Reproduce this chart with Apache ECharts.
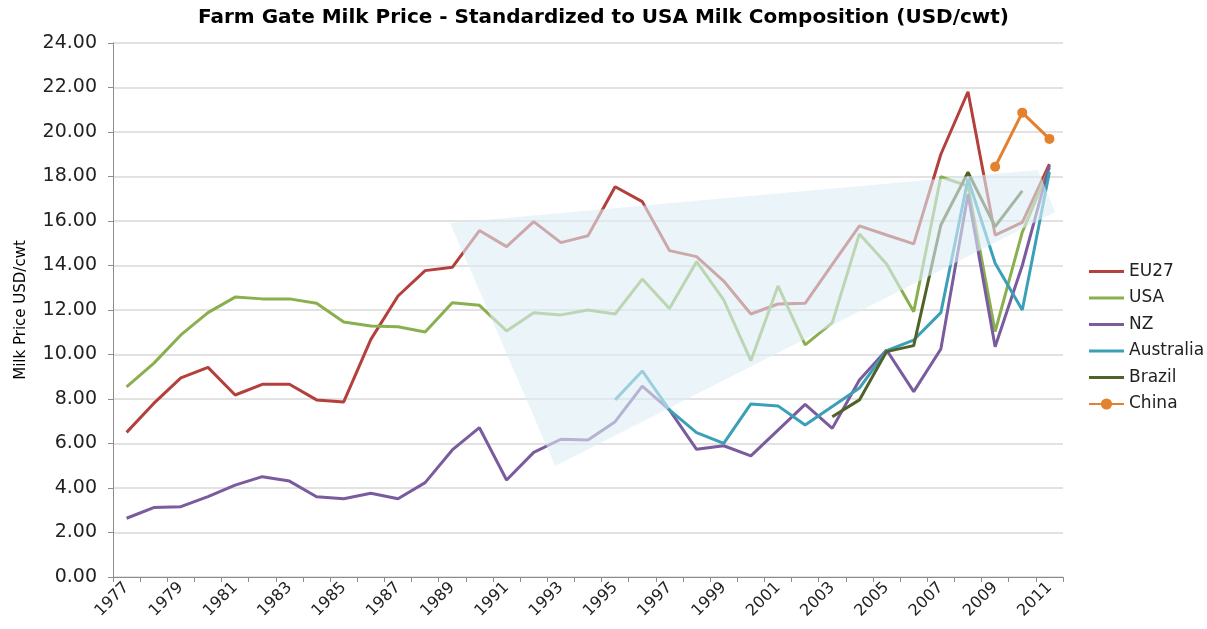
<!DOCTYPE html>
<html>
<head>
<meta charset="utf-8">
<title>Farm Gate Milk Price</title>
<script src="https://cdn.jsdelivr.net/npm/echarts@6/dist/echarts.min.js"></script>
<style>
  html, body { margin: 0; padding: 0; background: #fff; }
  #chart-container { width: 1207px; height: 629px; }
</style>
</head>
<body>
<div id="chart-container"></div>
<script>
// 数据
const years = ['1977', '1978', '1979', '1980', '1981', '1982', '1983', '1984', '1985', '1986',
  '1987', '1988', '1989', '1990', '1991', '1992', '1993', '1994', '1995', '1996',
  '1997', '1998', '1999', '2000', '2001', '2002', '2003', '2004', '2005', '2006',
  '2007', '2008', '2009', '2010', '2011'];

const eu27 = [6.50, 7.80, 8.95, 9.42, 8.18, 8.66, 8.66, 7.96, 7.87, 10.68,
  12.63, 13.77, 13.92, 15.57, 14.85, 15.97, 15.03, 15.34, 17.54, 16.87,
  14.67, 14.40, 13.30, 11.82, 12.27, 12.30, 14.05, 15.78, 15.37, 14.97,
  19.00, 21.81, 15.37, 15.94, 18.56];

const usa = [8.55, 9.60, 10.88, 11.88, 12.58, 12.50, 12.50, 12.30, 11.46, 11.28,
  11.25, 11.01, 12.33, 12.21, 11.06, 11.88, 11.78, 12.00, 11.82, 13.39,
  12.07, 14.17, 12.45, 9.72, 13.08, 10.43, 11.43, 15.42, 14.07, 11.92,
  17.99, 17.57, 11.03, 15.50, 18.40];

const nz = [2.64, 3.12, 3.16, 3.61, 4.13, 4.51, 4.31, 3.61, 3.52, 3.76,
  3.52, 4.24, 5.71, 6.71, 4.36, 5.60, 6.19, 6.16, 6.98, 8.58,
  7.51, 5.74, 5.90, 5.44, 6.60, 7.76, 6.68, 8.85, 10.20, 8.33,
  10.25, 17.20, 10.35, 14.00, 18.50];

const australia = [null, null, null, null, null, null, null, null, null, null,
  null, null, null, null, null, null, null, null, 7.96, 9.26,
  7.51, 6.49, 6.01, 7.78, 7.69, 6.83, 7.66, 8.49, 10.17, 10.65,
  11.88, 17.90, 14.10, 12.00, 18.20];

const brazil = [null, null, null, null, null, null, null, null, null, null,
  null, null, null, null, null, null, null, null, null, null,
  null, null, null, null, null, null, 7.20, 7.96, 10.13, 10.40,
  15.82, 18.19, 15.75, 17.35, null];

const china = [null, null, null, null, null, null, null, null, null, null,
  null, null, null, null, null, null, null, null, null, null,
  null, null, null, null, null, null, null, null, null, null,
  null, null, 18.44, 20.87, 19.69];

// 高亮区域 (x = 类目序号, y = 价格)
const highlightShape = [[11.92, 15.91], [15.79, 4.99], [34.21, 16.40], [33.58, 18.29]];

const FONT = 'DejaVu Sans';
const LINE_ICON = 'path://M0,0 L35,0 L35,3 L0,3 Z';

const seriesDefs = [
  { name: 'EU27', data: eu27, color: '#B3403C' },
  { name: 'USA', data: usa, color: '#8AAF4E' },
  { name: 'NZ', data: nz, color: '#7A5B9D' },
  { name: 'Australia', data: australia, color: '#3AA0B8' },
  { name: 'Brazil', data: brazil, color: '#4F6228' },
  { name: 'China', data: china, color: '#E4812F', marker: true }
];

function buildOption() {
  const lineSeries = seriesDefs.map(s => ({
    name: s.name,
    type: 'line',
    data: s.data,
    connectNulls: false,
    symbol: s.marker ? 'circle' : 'none',
    symbolSize: 10,
    showSymbol: !!s.marker,
    lineStyle: { width: 3, color: s.color },
    itemStyle: { color: s.color },
    z: 2
  }));

  // 半透明区域叠在折线上面
  const shapeSeries = {
    type: 'custom',
    xAxisIndex: 1,
    yAxisIndex: 0,
    silent: true,
    z: 5,
    data: [0],
    renderItem: (params, api) => ({
      type: 'polygon',
      shape: { points: highlightShape.map(p => api.coord(p)) },
      style: { fill: 'rgba(222,238,245,0.6)' }
    })
  };

  return {
    backgroundColor: '#ffffff',
    animation: false,
    title: {
      text: 'Farm Gate Milk Price - Standardized to USA Milk Composition (USD/cwt)',
      left: 'center',
      top: 3,
      textStyle: { fontFamily: FONT, fontSize: 20, fontWeight: 'bold', color: '#000' }
    },
    legend: {
      orient: 'vertical',
      left: 1083,
      top: 258,
      itemWidth: 35,
      itemHeight: 14,
      itemGap: 9.5,
      symbolKeepAspect: true,
      textStyle: { fontFamily: FONT, fontSize: 17, color: '#222' },
      data: seriesDefs.map(s => s.marker ? { name: s.name } : { name: s.name, icon: LINE_ICON })
    },
    grid: { left: 113, right: 144, top: 43, bottom: 52, containLabel: false, outerBoundsMode: 'none' },
    xAxis: [
      {
        type: 'category',
        data: years,
        boundaryGap: true,
        axisLine: { onZero: false, lineStyle: { color: '#8c8c8c', width: 1 } },
        axisTick: { show: true, interval: 0, length: 5, lineStyle: { color: '#8c8c8c' } },
        axisLabel: {
          interval: 1,
          rotate: 45,
          margin: 8,
          fontFamily: FONT,
          fontSize: 16,
          color: '#222'
        },
        splitLine: { show: false }
      },
      {
        type: 'value',
        show: false,
        min: -0.5,
        max: 34.5
      }
    ],
    yAxis: {
      type: 'value',
      min: 0,
      max: 24,
      interval: 2,
      name: 'Milk Price USD/cwt',
      nameLocation: 'middle',
      nameGap: 84,
      nameTextStyle: { fontFamily: FONT, fontSize: 15, color: '#000' },
      axisLine: { show: true, onZero: false, lineStyle: { color: '#8c8c8c', width: 1 } },
      axisTick: { show: true, length: 5, lineStyle: { color: '#8c8c8c' } },
      axisLabel: {
        fontFamily: FONT,
        fontSize: 19,
        color: '#222',
        margin: 16,
        formatter: v => v.toFixed(2)
      },
      splitLine: { lineStyle: { color: '#d9d9d9', width: 1.5 } }
    },
    series: lineSeries.concat([shapeSeries])
  };
}

const chart = echarts.init(document.getElementById('chart-container'));
chart.setOption(buildOption());
window.addEventListener('resize', () => chart.resize());
</script>
</body>
</html>
